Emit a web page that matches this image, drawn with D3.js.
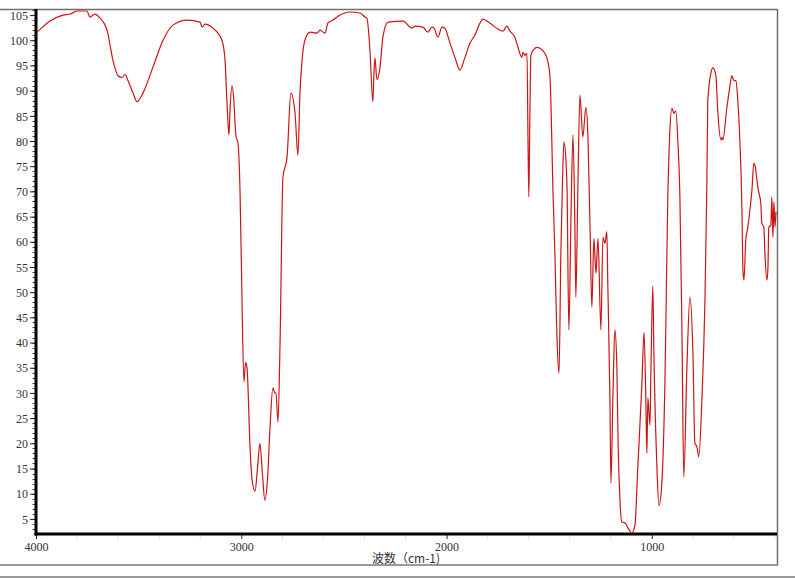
<!DOCTYPE html>
<html>
<head>
<meta charset="utf-8">
<script src="https://cdn.jsdelivr.net/npm/d3@7"></script>
<style>
  html, body { margin: 0; padding: 0; background: #fff; }
  svg { display: block; }
  .lbl { font-family: "Liberation Serif", "DejaVu Serif", serif; font-size: 12px; fill: #333; }
</style>
</head>
<body>
<svg id="chart" width="795" height="578"></svg>
<script>
// ---- data (wavenumber cm-1, transmittance %) ----
const wavenumbers = [4000,3971,3932,3868,3834,3800,3752,3737,3713,3688,3654,3625,3601,3581,3566,3552,3527,3508,3479,3430,3381,3333,3264,3201,3191,3177,3138,3094,3079,3070,3060,3055,3045,3036,3026,3016,3006,2997,2987,2979,2972,2958,2948,2933,2921,2909,2897,2885,2872,2860,2846,2836,2831,2821,2811,2797,2777,2758,2738,2724,2714,2704,2690,2665,2631,2617,2592,2578,2553,2519,2471,2422,2397,2388,2373,2359,2354,2349,2339,2324,2310,2285,2212,2168,2154,2115,2091,2071,2061,2042,2022,2008,1983,1959,1935,1910,1886,1862,1837,1823,1789,1740,1725,1706,1691,1667,1652,1633,1628,1618,1608,1603,1599,1594,1589,1574,1560,1545,1521,1506,1496,1491,1482,1472,1462,1452,1443,1435,1428,1418,1413,1404,1394,1384,1375,1370,1360,1350,1336,1321,1311,1301,1292,1282,1272,1262,1248,1238,1228,1219,1214,1204,1199,1189,1180,1170,1165,1155,1146,1131,1116,1097,1082,1068,1048,1038,1029,1024,1019,1009,1004,995,990,975,965,951,936,922,912,902,892,883,873,863,853,844,829,814,800,790,780,771,756,741,732,727,712,702,688,678,663,658,654,634,620,610,600,590,581,571,561,556,551,542,532,522,512,503,493,488,478,469,464,454,449,439,434,430,420,415,410,405,400,395];
const transmittance = [101.4,102.5,103.8,105,105.2,105.8,105.8,104.6,105.2,104.4,102,96,93,92.6,93.2,92,89.5,87.8,89.5,94.7,100,103,104,103.6,102.6,103.2,102.4,100,96,88,81.2,86,91,88,81,79.6,70,49.8,32.2,36,35,20,13,10.5,15,20,14,8.7,13,23,31,30,30,24.2,40,72.8,76.8,89.5,85.5,77.2,89.5,96,100,101.6,101.4,102,101.4,103.4,104,105,105.6,105.4,104.6,104.4,98,87.8,93,96.5,92.2,94.6,100.6,103.6,103.8,102.4,102.8,102.6,101.6,102.6,102.4,100.6,102.6,102.4,99.4,96.6,94.1,96.6,99.4,101,103.4,104.2,103.4,102,101.8,102.8,101.8,100.6,98.6,96.6,97.6,97,97.4,80,68.9,85,97,98.2,98.6,98.4,97.4,95.7,92.7,87,70.8,57.7,41,33.9,57.7,72,79.8,76,70.8,42.5,64.3,81.2,64,49,70.8,89.1,80.8,86.7,80.8,63,47,60.7,53.8,60.7,42.5,60.9,59.7,62,51,29,12.1,30,42.5,35,22,8.7,4.4,4.2,3.2,2.2,3.8,15.3,32,42,29,18,29,23.6,35,51.2,38.5,15.3,7.6,12.1,32,68.7,82,86.5,85.5,86,80,68.7,41.9,13.3,35,49,38.5,20,19.3,17.3,28.6,48.4,70.3,88,93.5,94.5,93,85.5,80.2,80.8,80.2,86.7,90.7,93,92,92,88.1,80.2,66.9,54.4,52.4,60.3,62.9,66.3,70.3,75.6,74.2,72.2,69.7,67.7,63.7,62.9,57.8,52.4,55,62.9,63.3,68.9,60.9,67.9,62.9,66];
const xTickValues = [4000, 3000, 2000, 1000];
const yTickValues = [5,10,15,20,25,30,35,40,45,50,55,60,65,70,75,80,85,90,95,100,105];
const xTitle = "波数（cm-1)";

const data = wavenumbers.map((w, i) => ({ w, t: transmittance[i] }));

const svg = d3.select("#chart");
const pL = 36, pR = 777, pT = 9, pB = 534;

const x = d3.scaleLinear().domain([4000, 390]).range([pL, pR]);
const y = d3.scaleLinear().domain([2, 106.2]).range([pB, pT]);

// frame lines (gray)
svg.append("line").attr("x1", 0).attr("x2", pR).attr("y1", pT + 0.5).attr("y2", pT + 0.5)
  .attr("stroke", "#6e6e6e").attr("stroke-width", 1.5);
svg.append("line").attr("x1", pR + 0.5).attr("x2", pR + 0.5).attr("y1", pT).attr("y2", 565)
  .attr("stroke", "#6e6e6e").attr("stroke-width", 1.5);
svg.append("line").attr("x1", 0).attr("x2", pR + 1).attr("y1", 565).attr("y2", 565)
  .attr("stroke", "#7a7a7a").attr("stroke-width", 1.5);
svg.append("line").attr("x1", 0).attr("x2", 795).attr("y1", 577).attr("y2", 577)
  .attr("stroke", "#7a7a7a").attr("stroke-width", 1.5);

// minor x ticks (faint)
const xMinor = d3.range(3800, 390, -200).filter(v => v % 1000 !== 0);
svg.append("g").selectAll("line").data(xMinor).join("line")
  .attr("x1", d => x(d)).attr("x2", d => x(d))
  .attr("y1", pB + 2).attr("y2", pB + 6)
  .attr("stroke", "#e4e4e4").attr("stroke-width", 1);

// y minor ticks
const yMinor = d3.range(3, 107, 1);
svg.append("g").selectAll("line").data(yMinor).join("line")
  .attr("x1", pL - 3.5).attr("x2", pL)
  .attr("y1", d => Math.round(y(d)) + 0.5).attr("y2", d => Math.round(y(d)) + 0.5)
  .attr("stroke", "#444").attr("stroke-width", 1);

// y axis
const yAxis = d3.axisLeft(y).tickValues(yTickValues).tickSize(6).tickPadding(2).tickFormat(d3.format("d"));
const gy = svg.append("g").attr("transform", `translate(${pL},0)`).call(yAxis);
gy.select(".domain").remove();
gy.selectAll(".tick line").attr("stroke", "#222");
gy.selectAll(".tick text").attr("class", "lbl").attr("dy", "0.35em");

// x axis
const xAxis = d3.axisBottom(x).tickValues(xTickValues).tickSize(5).tickPadding(3).tickFormat(d3.format("d"));
const gx = svg.append("g").attr("transform", `translate(0,${pB})`).call(xAxis);
gx.select(".domain").remove();
gx.selectAll(".tick line").attr("stroke", "#222");
gx.selectAll(".tick text").attr("class", "lbl");

// thick axis lines
svg.append("line").attr("x1", pL).attr("x2", pL).attr("y1", pT).attr("y2", pB + 1.5)
  .attr("stroke", "#000").attr("stroke-width", 3);
svg.append("line").attr("x1", pL - 1.5).attr("x2", pR).attr("y1", pB).attr("y2", pB)
  .attr("stroke", "#000").attr("stroke-width", 3);

// spectrum line
const line = d3.line().x(d => x(d.w)).y(d => y(d.t)).curve(d3.curveMonotoneX);
svg.append("defs").append("clipPath").attr("id", "clip")
  .append("rect").attr("x", pL + 1).attr("y", pT).attr("width", pR - pL - 1).attr("height", pB - pT - 1);
svg.append("path").datum(data).attr("d", line)
  .attr("fill", "none").attr("stroke", "#cc1414").attr("stroke-width", 1.2)
  .attr("clip-path", "url(#clip)");

// x title
svg.append("text").attr("x", 406).attr("y", 563).attr("text-anchor", "middle")
  .attr("font-family", "'Noto Sans CJK SC', sans-serif").attr("font-size", 12).attr("fill", "#333")
  .text(xTitle);
</script>
</body>
</html>
